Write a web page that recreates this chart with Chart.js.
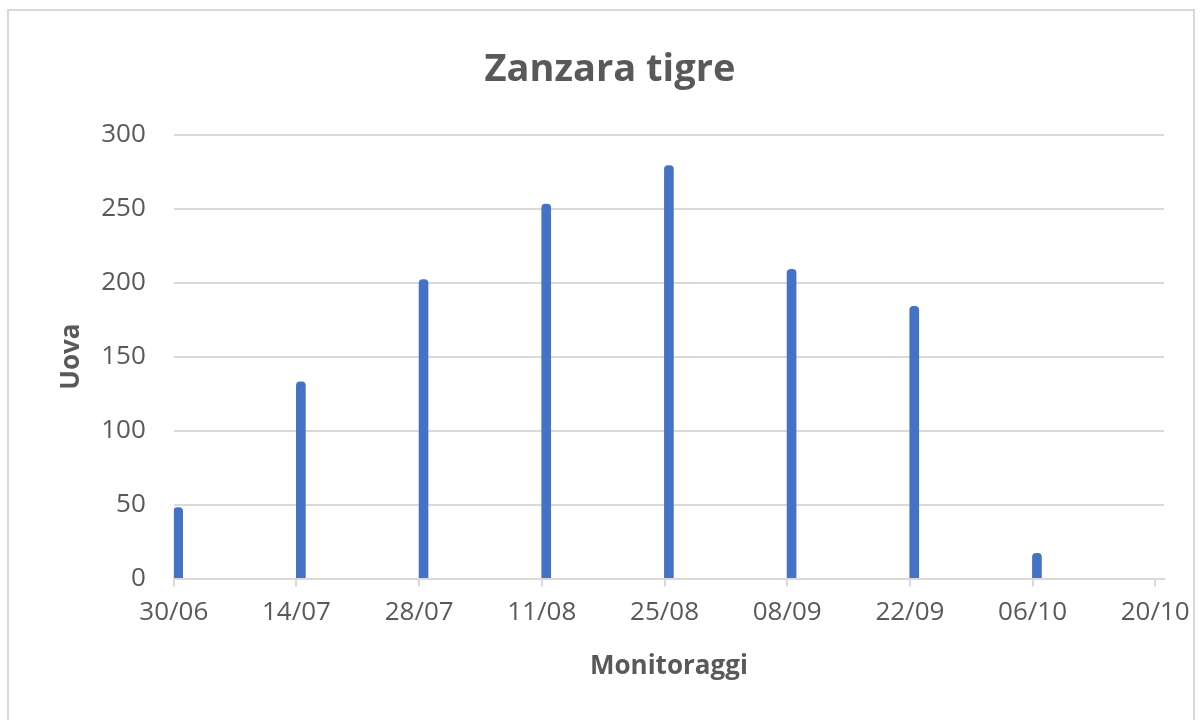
<!DOCTYPE html>
<html>
<head>
<meta charset="utf-8">
<script src="https://cdn.jsdelivr.net/npm/chart.js@4"></script>
<style>
  html, body { margin: 0; padding: 0; background: #fff; }
  #wrap { position: relative; width: 1202px; height: 720px; overflow: hidden; }
  #frame { position: absolute; left: 7px; top: 9px; width: 1188px; height: 740px; border: 2px solid #d9d9d9; box-sizing: border-box; }
  canvas { position: absolute; left: 0; top: 0; }
</style>
</head>
<body>
<div id="wrap">
  <div id="frame"></div>
  <canvas id="chart" width="1202" height="720"></canvas>
</div>
<script>
const year = 2021;
const startDate = "30/06";
const endDate = "21/10";
const sampleDates = ["30/06", "14/07", "28/07", "11/08", "25/08", "08/09", "22/09", "06/10"];
const eggs = [48, 133, 202, 253, 279, 209, 184, 17];
const tickDates = ["30/06", "14/07", "28/07", "11/08", "25/08", "08/09", "22/09", "06/10", "20/10"];
const yTicks = [0, 50, 100, 150, 200, 250, 300];

function dayOf(s) {
    const [d, m] = s.split("/").map(Number);
    const [d0, m0] = startDate.split("/").map(Number);
    return Math.round((Date.UTC(year, m - 1, d) - Date.UTC(year, m0 - 1, d0)) / 86400000);
}

const tickDays = tickDates.map(dayOf);
const grey = "#595959";
const lineGrey = "#d9d9d9";

document.addEventListener("DOMContentLoaded", function () {
    const ctx = document.getElementById("chart").getContext("2d");

    new Chart(ctx, {
        type: "bar",
        data: {
            datasets: [{
                label: "Uova",
                data: sampleDates.map((d, i) => ({ x: dayOf(d) + 0.5, y: eggs[i] })),
                backgroundColor: "#4472C4",
                barThickness: 9,
                borderRadius: { topLeft: 4, topRight: 4, bottomLeft: 0, bottomRight: 0 },
                borderSkipped: "start"
            }]
        },
        options: {
            responsive: false,
            animation: false,
            layout: { padding: { left: 56, right: 38, top: 47, bottom: 38 } },
            plugins: {
                legend: { display: false },
                tooltip: { enabled: false },
                title: {
                    display: true,
                    text: "Zanzara tigre",
                    color: grey,
                    font: { family: "Open Sans", size: 38, weight: "bold" },
                    padding: { top: 0, bottom: 42 }
                }
            },
            scales: {
                x: {
                    type: "linear",
                    offset: false,
                    min: 0,
                    max: dayOf(endDate),
                    afterBuildTicks: function (scale) {
                        scale.ticks = tickDays.map(v => ({ value: v }));
                    },
                    grid: {
                        offset: false,
                        drawOnChartArea: false,
                        drawTicks: true,
                        tickLength: 8,
                        color: lineGrey,
                        lineWidth: 2
                    },
                    border: { color: lineGrey, width: 2 },
                    ticks: {
                        autoSkip: false,
                        maxRotation: 0,
                        color: grey,
                        padding: 10,
                        font: { family: "Open Sans", size: 26 },
                        callback: function (value) {
                            const i = tickDays.indexOf(value);
                            return i >= 0 ? tickDates[i] : "";
                        }
                    },
                    title: {
                        display: true,
                        text: "Monitoraggi",
                        color: grey,
                        font: { family: "Open Sans", size: 26, weight: "bold" },
                        padding: { top: 13, bottom: 0 }
                    }
                },
                y: {
                    min: yTicks[0],
                    max: yTicks[yTicks.length - 1],
                    afterBuildTicks: function (scale) {
                        scale.ticks = yTicks.map(v => ({ value: v }));
                    },
                    grid: { color: lineGrey, lineWidth: 2, drawTicks: false },
                    border: { display: false },
                    ticks: {
                        color: grey,
                        padding: 28,
                        font: { family: "Open Sans", size: 26 }
                    },
                    title: {
                        display: true,
                        text: "Uova",
                        color: grey,
                        font: { family: "Open Sans", size: 26, weight: "bold" },
                        padding: { top: 0, bottom: -14 }
                    }
                }
            }
        }
    });
});
</script>
</body>
</html>
